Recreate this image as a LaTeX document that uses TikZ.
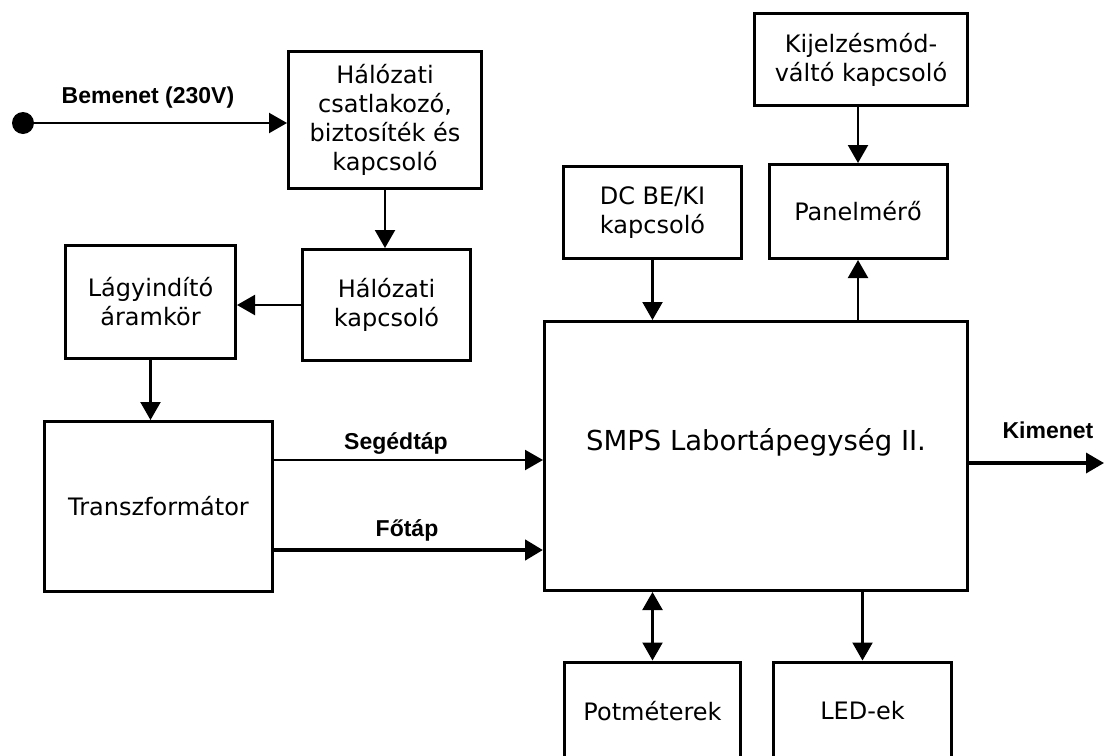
\documentclass[tikz,border=0pt]{standalone}
\usepackage{fontspec}
\setmainfont{DejaVu Sans}
\newfontfamily\lblfont{Liberation Sans}
\usepackage{tikz}
\usetikzlibrary{arrows.meta,calc}

\tikzset{
  blokk/.style={draw,line width=3pt,align=center,inner sep=0pt,font=\fontsize{24}{29}\selectfont},
  nyil/.style={line width=2.2pt,-{Triangle[length=18pt,width=20pt]}},
  felirat/.style={font=\lblfont\bfseries\fontsize{23}{26}\selectfont,inner sep=0pt}
}

\begin{document}
\begin{tikzpicture}[x=1pt,y=-1pt]
        \useasboundingbox (0,0) rectangle (1105,755);
        \clip (0,0) rectangle (1105,755);

        \node[blokk,minimum width=193pt,minimum height=137pt] (halo1) at (385,120) {Hálózati\\csatlakozó,\\biztosíték és\\kapcsoló};
        \node[blokk,minimum width=168pt,minimum height=111pt] (halo2) at (386.5,305) {Hálózati\\kapcsoló};
        \node[blokk,minimum width=170pt,minimum height=113pt] (lagy) at (150.5,302) {Lágyindító\\áramkör};
        \node[blokk,minimum width=228pt,minimum height=170pt] (trafo) at (158.5,506.5) {Transzformátor};
        \node[blokk,minimum width=423pt,minimum height=269pt,font=\fontsize{27.5}{30}\selectfont] (smps) at (756,456) {SMPS Labortápegység II.\\[4pt]};
        \node[blokk,minimum width=178pt,minimum height=92pt] (dc) at (652.5,212.5) {DC BE/KI\\kapcsoló};
        \node[blokk,minimum width=213pt,minimum height=92pt] (kijel) at (861,59.5) {Kijelzésmód-\\váltó kapcsoló};
        \node[blokk,minimum width=178pt,minimum height=94pt] (panel) at (858,211.5) {Panelmérő};
        \node[blokk,minimum width=176pt,minimum height=98pt] (pot) at (652.5,711) {Potméterek};
        \node[blokk,minimum width=178pt,minimum height=98pt] (led) at (862.5,711) {LED-ek};

        \node[circle,fill,minimum size=22pt,inner sep=0pt] (src) at (23,123) {};
        \coordinate (out) at (1104,463);

        % bemenet es halozati ag
        \draw[nyil] (src) -- (src -| halo1.west);
        \draw[nyil] (halo1.south) -- (halo1.south |- halo2.north);
        \draw[nyil] (halo2.west) -- (halo2.west -| lagy.east);
        \draw[nyil] (lagy.south) -- (lagy.south |- trafo.north);

        % tapok
        \draw[nyil] ([yshift=46.5pt]trafo.east) -- ([yshift=46.5pt]trafo.east -| smps.west);
        \draw[nyil,line width=4.5pt] ([yshift=-43.5pt]trafo.east) -- ([yshift=-43.5pt]trafo.east -| smps.west);
        \draw[nyil,line width=3.5pt] (out -| smps.east) -- (out);

        % kezeloszervek
        \draw[nyil] (dc.south) -- (dc.south |- smps.north);
        \draw[nyil] (kijel.south -| panel) -- (panel.north);
        \draw[nyil] (panel.south |- smps.north) -- (panel.south);
        \draw[nyil,{Triangle[length=18pt,width=20pt]}-{Triangle[length=18pt,width=20pt]}] (pot.north |- smps.south) -- (pot.north);
        \draw[nyil] (led.north |- smps.south) -- (led.north);

        \node[felirat] (lbe) at (148,98) {Bemenet (230V)};
        \node[felirat] (lseg) at (396,443) {Segédtáp};
        \node[felirat] (lfo) at (407,530) {Főtáp};
        \node[felirat] (lki) at (1048,430) {Kimenet};
    \end{tikzpicture}
\end{document}
